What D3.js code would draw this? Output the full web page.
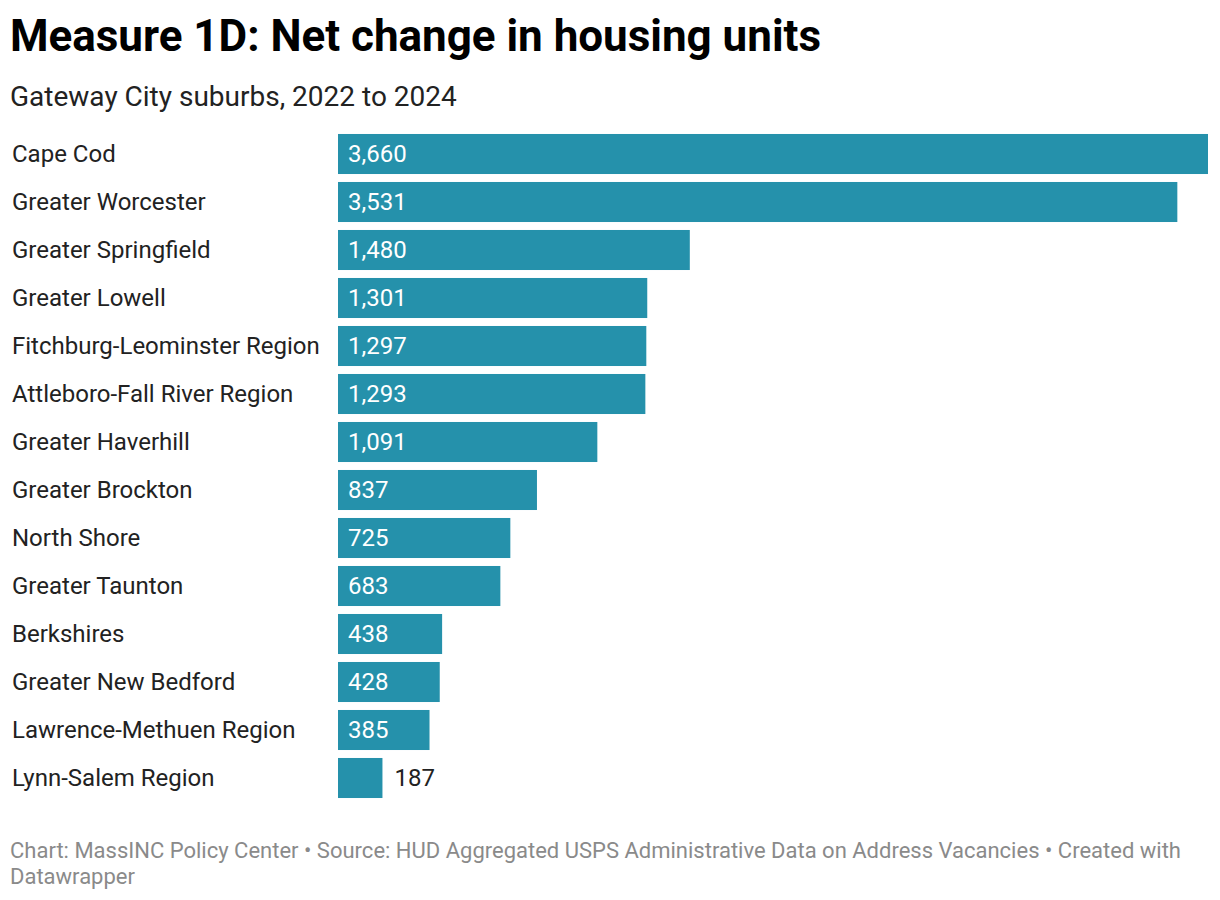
<!DOCTYPE html>
<html>
<head>
<meta charset="utf-8">
<script src="https://cdn.jsdelivr.net/npm/d3@7"></script>
<style>
  body { margin: 0; background: #fff; font-family: Roboto, sans-serif; }
</style>
</head>
<body>
<div id="chart"></div>
<script>
// data
var regions = ["Cape Cod", "Greater Worcester", "Greater Springfield", "Greater Lowell",
    "Fitchburg-Leominster Region", "Attleboro-Fall River Region", "Greater Haverhill",
    "Greater Brockton", "North Shore", "Greater Taunton", "Berkshires",
    "Greater New Bedford", "Lawrence-Methuen Region", "Lynn-Salem Region"];
var netChange = [3660, 3531, 1480, 1301, 1297, 1293, 1091, 837, 725, 683, 438, 428, 385, 187];

var titleText = "Measure 1D: Net change in housing units";
var subtitleText = "Gateway City suburbs, 2022 to 2024";
var footerLines = ["Chart: MassINC Policy Center \u2022 Source: HUD Aggregated USPS Administrative Data on Address Vacancies \u2022 Created with",
    "Datawrapper"];

var width = 1220, height = 900;
var barColor = "#2591ab";

var svg = d3.select("#chart").append("svg")
    .attr("width", width)
    .attr("height", height);

svg.append("text")
    .attr("x", 10)
    .attr("y", 51)
    .attr("font-size", 44)
    .attr("font-weight", 700)
    .attr("fill", "#000")
    .attr("textLength", 811)
    .text(titleText);

svg.append("text")
    .attr("x", 10)
    .attr("y", 106)
    .attr("font-size", 28)
    .attr("fill", "#222")
    .text(subtitleText);

var x = d3.scaleLinear()
    .domain([0, d3.max(netChange)])
    .range([338, 1208]);

var y = d3.scaleBand()
    .domain(regions)
    .range([130, 802])
    .paddingInner(0.166)
    .paddingOuter(0.083);

var fmt = d3.format(",");

var rows = svg.selectAll("g.row")
    .data(regions)
    .enter()
    .append("g")
    .attr("class", "row");

rows.append("text")
    .attr("x", 12)
    .attr("y", function(d) { return y(d) + y.bandwidth() / 2; })
    .attr("dy", "0.35em")
    .attr("font-size", 24)
    .attr("fill", "#222")
    .text(function(d) { return d; });

rows.append("rect")
    .attr("x", x(0))
    .attr("y", function(d) { return y(d); })
    .attr("width", function(d, i) { return x(netChange[i]) - x(0); })
    .attr("height", y.bandwidth())
    .attr("fill", barColor);

rows.append("text")
    .attr("x", function(d, i) {
        var w = x(netChange[i]) - x(0);
        return w > 80 ? x(0) + 10 : x(netChange[i]) + 12;
    })
    .attr("y", function(d) { return y(d) + y.bandwidth() / 2; })
    .attr("dy", "0.35em")
    .attr("font-size", 24)
    .attr("fill", function(d, i) {
        return (x(netChange[i]) - x(0)) > 80 ? "#fff" : "#222";
    })
    .text(function(d, i) { return fmt(netChange[i]); });

var footer = svg.append("text")
    .attr("font-size", 22)
    .attr("fill", "#8a8a8a");

footer.selectAll("tspan")
    .data(footerLines)
    .enter()
    .append("tspan")
    .attr("x", 10)
    .attr("y", function(d, i) { return 858 + i * 26; })
    .text(function(d) { return d; });
</script>
</body>
</html>
